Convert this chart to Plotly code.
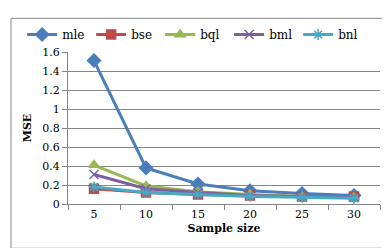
import plotly.graph_objects as go

categories = ["5", "10", "15", "20", "25", "30"]
mle = [1.51, 0.38, 0.21, 0.14, 0.11, 0.09]
bse = [0.16, 0.12, 0.10, 0.09, 0.08, 0.08]
bql = [0.41, 0.19, 0.13, 0.10, 0.08, 0.07]
bml = [0.31, 0.16, 0.12, 0.09, 0.08, 0.07]
bnl = [0.18, 0.12, 0.10, 0.08, 0.07, 0.06]
y_ticks = [0, 0.2, 0.4, 0.6, 0.8, 1.0, 1.2, 1.4, 1.6]
y_ticklabels = ["0", "0.2", "0.4", "0.6", "0.8", "1", "1.2", "1.4", "1.6"]

series = [
    ("mle", mle, "#4A7EBB", "diamond", 10),
    ("bse", bse, "#BE4B48", "square", 9),
    ("bql", bql, "#98B954", "triangle-up", 9),
    ("bml", bml, "#7D60A0", "x-thin-open", 9),
    ("bnl", bnl, "#46AAC5", "asterisk-open", 9),
]

fig = go.Figure()
for name, vals, color, sym, size in series:
    fig.add_trace(go.Scatter(
        x=categories, y=vals, name=name, mode="lines+markers",
        line=dict(color=color, width=3),
        marker=dict(symbol=sym, size=size, color=color,
                    line=dict(color=color, width=1.5)),
    ))

font = "DejaVu Serif"
fig.update_layout(
    width=390, height=248,
    margin=dict(l=60, r=18, t=38, b=52),
    paper_bgcolor="white", plot_bgcolor="white",
    font=dict(family=font, size=11, color="black"),
    showlegend=True,
    legend=dict(orientation="h", x=-0.147, xanchor="left", y=1.115, yanchor="middle",
                font=dict(family=font, size=12), entrywidth=24, entrywidthmode="pixels",
                itemwidth=30, bgcolor="rgba(0,0,0,0)"),
    xaxis=dict(type="category", range=[-0.5, 5.5], tickson="boundaries",
               ticks="outside", ticklen=5, tickcolor="#868686",
               showline=True, linecolor="#868686", linewidth=1,
               showgrid=False, tickfont=dict(family=font, size=11),
               title=dict(text="<b>Sample size</b>", font=dict(family=font, size=11), standoff=4)),
    yaxis=dict(range=[0, 1.6], tickvals=y_ticks, ticktext=y_ticklabels,
               ticks="outside", ticklen=5, tickcolor="#868686",
               showline=True, linecolor="#868686", linewidth=1,
               showgrid=True, gridcolor="#868686", gridwidth=1,
               zeroline=False, tickfont=dict(family=font, size=11),
               title=dict(text="<b>MSE</b>", font=dict(family=font, size=11), standoff=8)),
    shapes=[dict(type="rect", xref="paper", yref="paper",
                 x0=(3 - 60) / 312, x1=(385 - 60) / 312,
                 y0=(196 - 242) / 158, y1=(196 - 3) / 158,
                 line=dict(color="#868686", width=1), fillcolor="rgba(0,0,0,0)",
                 layer="below")],
)

fig.write_html("out.html")
